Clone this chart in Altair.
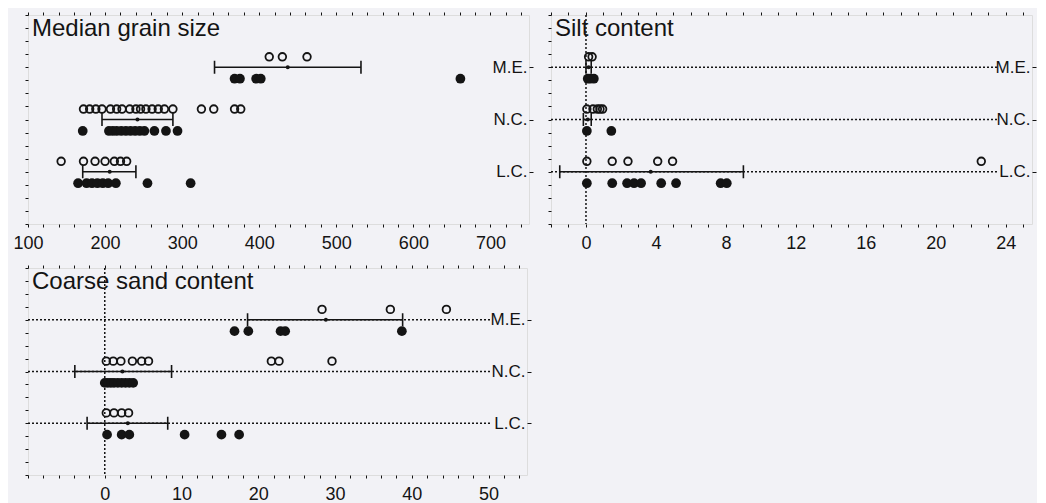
import altair as alt
import pandas as pd

# ---------------- data ----------------
cats = ["M.E.", "N.C.", "L.C."]
cat_pos = [3, 2, 1]

# Median grain size
mgs_open_me = [413, 430, 462]
mgs_fill_me = [368, 375, 396, 402, 661]
mgs_open_nc = [172, 180, 188, 196, 207, 215, 222, 232, 240, 246, 253, 261, 269, 277, 288, 325, 341, 368, 376]
mgs_fill_nc = [171, 205, 210, 215, 221, 227, 233, 239, 245, 251, 264, 279, 294]
mgs_open_lc = [143, 172, 187, 200, 212, 220, 228]
mgs_fill_lc = [165, 176, 183, 190, 197, 204, 214, 255, 311]
mgs_mean = [437, 242, 206]
mgs_lo = [342, 196, 171]
mgs_hi = [532, 288, 240]

# Silt content
silt_open_me = [0.15, 0.35]
silt_fill_me = [0.1, 0.25, 0.45]
silt_open_nc = [0.05, 0.4, 0.65, 0.8, 0.95]
silt_fill_nc = [0.05, 1.45]
silt_open_lc = [0.05, 1.5, 2.4, 4.1, 4.95, 22.6]
silt_fill_lc = [0.05, 1.5, 2.35, 2.75, 3.15, 4.3, 5.15, 7.7, 8.05]
silt_mean = [0.15, 0.1, 3.7]
silt_lo = [0.0, -0.15, -1.5]
silt_hi = [0.3, 0.3, 9.0]

# Coarse sand content
cs_open_me = [28.3, 37.2, 44.5]
cs_fill_me = [16.9, 18.7, 22.9, 23.5, 38.7]
cs_open_nc = [0.2, 1.1, 2.1, 3.6, 4.8, 5.7, 21.7, 22.7, 29.6]
cs_fill_nc = [0.0, 0.4, 0.8, 1.2, 1.7, 2.2, 2.7, 3.2, 3.7]
cs_open_lc = [0.2, 1.2, 2.2, 3.1]
cs_fill_lc = [0.3, 2.2, 3.2, 10.4, 15.2, 17.5]
cs_mean = [28.8, 2.3, 3.0]
cs_lo = [18.6, -3.9, -2.3]
cs_hi = [38.8, 8.7, 8.2]

INK = "#141414"
FONT = "Liberation Sans"


def make_panel(title, opens, fills, means, los, his, domain, tick_step,
               label_step, width, height, guide_end=None):
    rows = []
    for c, p, o, f in zip(cats, cat_pos, opens, fills):
        for v in o:
            rows.append({"cat": c, "pos": p, "value": v, "kind": "open"})
        for v in f:
            rows.append({"cat": c, "pos": p, "value": v, "kind": "filled"})
    df = pd.DataFrame(rows)
    st = pd.DataFrame({"cat": cats, "pos": cat_pos, "mean": means, "lo": los, "hi": his})

    xs = alt.Scale(domain=domain, nice=False, zero=False)
    ys = alt.Scale(domain=[0, 4], nice=False, zero=False)
    start = int(domain[0])
    xticks = [v for v in range(start, int(domain[1]) + 1, tick_step)]
    yticks = [i * 0.25 for i in range(17)]
    lab_expr = (f"(datum.value % {label_step} === 0 && datum.value >= 0) ? "
                f"format(datum.value, 'd') : ''")
    cat_expr = " : ".join(f"datum.value == {p} ? '{c}'" for c, p in zip(cats, cat_pos)) + " : ''"

    ax_bottom = alt.Axis(orient="bottom", values=xticks, labelExpr=lab_expr, tickSize=3,
                         labelPadding=7, labelFontSize=18, labelFont=FONT, labelColor=INK,
                         tickColor=INK, domain=False, grid=False, title=None,
                         labelOverlap=False, labelFlush=False)
    ax_top = alt.Axis(orient="top", values=xticks, labels=False, tickSize=3, tickColor=INK,
                      domain=False, grid=False, title=None)
    ax_left = alt.Axis(orient="left", values=yticks, labels=False, tickSize=3, tickColor=INK,
                       domain=False, grid=False, title=None)
    ax_right = alt.Axis(orient="right", values=cat_pos, labelExpr=cat_expr, tickSize=4,
                        tickColor=INK, labelAlign="right", labelPadding=-6,
                        labelBaseline="middle", labelFontSize=17, labelFont=FONT,
                        labelColor=INK, domain=False, grid=False, title=None)

    layers = []
    if guide_end is not None:
        gd = pd.DataFrame({"pos": cat_pos, "x0": [domain[0]] * 3, "x1": [guide_end] * 3})
        layers.append(alt.Chart(gd).mark_rule(color=INK, strokeWidth=1.5, strokeDash=[2, 2]).encode(
            x=alt.X("x0:Q", scale=xs, axis=None), x2="x1:Q",
            y=alt.Y("pos:Q", scale=ys, axis=None)))
        layers.append(alt.Chart(pd.DataFrame({"z": [0]})).mark_rule(
            color=INK, strokeWidth=1.5, strokeDash=[2, 2]).encode(
            x=alt.X("z:Q", scale=xs, axis=None)))

    # error bar: mean +/- SD
    layers.append(alt.Chart(st).mark_rule(color=INK, strokeWidth=1.6).encode(
        x=alt.X("lo:Q", scale=xs, axis=None), x2="hi:Q",
        y=alt.Y("pos:Q", scale=ys, axis=None)))
    layers.append(alt.Chart(st).transform_fold(["lo", "hi"], as_=["end", "xv"]).mark_tick(
        orient="vertical", size=13, thickness=1.6, color=INK, opacity=1).encode(
        x=alt.X("xv:Q", scale=xs, axis=None),
        y=alt.Y("pos:Q", scale=ys, axis=None)))
    layers.append(alt.Chart(st).mark_circle(size=16, color=INK, opacity=1).encode(
        x=alt.X("mean:Q", scale=xs, axis=None),
        y=alt.Y("pos:Q", scale=ys, axis=None)))

    # individual values
    layers.append(alt.Chart(df).transform_filter("datum.kind == 'open'").transform_calculate(
        y="datum.pos + 0.2").mark_point(shape="circle", filled=False, stroke=INK,
                                        strokeWidth=1.8, size=58, opacity=1).encode(
        x=alt.X("value:Q", scale=xs, axis=ax_bottom),
        y=alt.Y("y:Q", scale=ys, axis=ax_left)))
    layers.append(alt.Chart(df).transform_filter("datum.kind == 'filled'").transform_calculate(
        y="datum.pos - 0.22").mark_circle(size=95, color=INK, opacity=1).encode(
        x=alt.X("value:Q", scale=xs, axis=ax_top),
        y=alt.Y("y:Q", scale=ys, axis=ax_right)))

    # panel title inside the frame
    layers.append(alt.Chart(pd.DataFrame({"t": [title]})).mark_text(
        align="left", baseline="top", dx=4, dy=2, fontSize=24, font=FONT, color=INK).encode(
        x=alt.XDatum(domain[0], scale=xs, axis=None),
        y=alt.YDatum(4, scale=ys, axis=None), text="t:N"))

    return alt.layer(*layers).resolve_axis(x="independent", y="independent").properties(
        width=width, height=height)


p1 = make_panel("Median grain size",
                [mgs_open_me, mgs_open_nc, mgs_open_lc],
                [mgs_fill_me, mgs_fill_nc, mgs_fill_lc],
                mgs_mean, mgs_lo, mgs_hi, [100, 750], 20, 100, 501, 209)
p2 = make_panel("Silt content",
                [silt_open_me, silt_open_nc, silt_open_lc],
                [silt_fill_me, silt_fill_nc, silt_fill_lc],
                silt_mean, silt_lo, silt_hi, [-2, 25.5], 1, 4, 481, 209, guide_end=23.5)
p3 = make_panel("Coarse sand content",
                [cs_open_me, cs_open_nc, cs_open_lc],
                [cs_fill_me, cs_fill_nc, cs_fill_lc],
                cs_mean, cs_lo, cs_hi, [-10, 55], 2, 10, 499, 207, guide_end=50.4)

chart = alt.concat(p1, p2, p3, columns=2, spacing={"row": 44, "column": 22},
                   bounds="flush", align="each").properties(
    padding={"left": 4, "top": 3, "right": 0, "bottom": 0},
    background="#f2f2f6",
).configure_view(stroke=INK, strokeWidth=1.6).configure(font=FONT)

chart.save("out.html", embed_options={"renderer": "svg", "actions": False})
